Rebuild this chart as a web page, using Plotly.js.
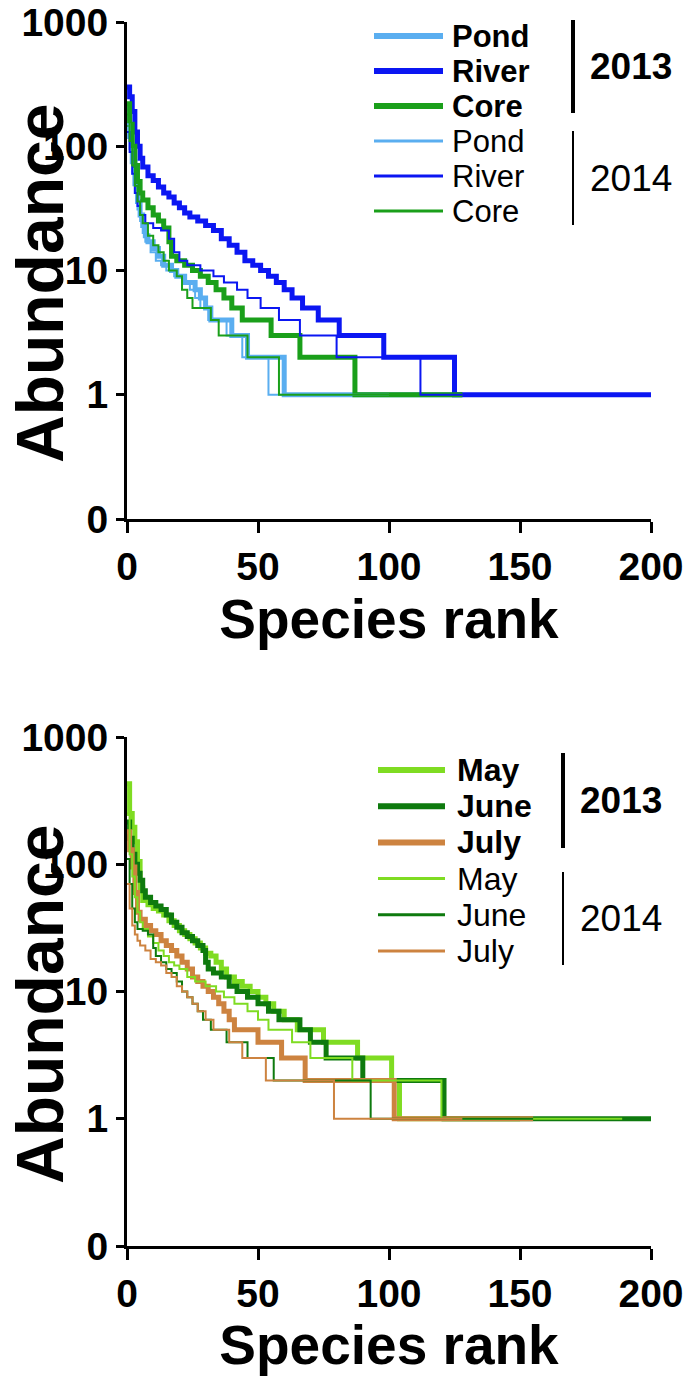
<!DOCTYPE html>
<html><head><meta charset="utf-8">
<script src="https://cdn.plot.ly/plotly-3.0.1.min.js"></script>
<style>html,body{margin:0;padding:0;background:#fff}#chart{width:685px;height:1376px}</style>
</head><body><div id="chart"></div>
<script>
// ---------- Panel A: habitats ----------
const habitatNames = ['Pond', 'River', 'Core'];
const yearLabels = ['2013', '2014'];

const rankPond13  = [0,1,2,3,4,5,6,7,8,10,12,14,17,19,22,26,28,30,32,40,46,60,128];
const abundPond13 = [200,120,75,50,36,28,23,19,17,15,13,11,10,9,8,7,6,5,4,3,2,1,1];
const rankRiver13  = [0,1,2,3,4,5,6,8,10,12,14,16,18,20,22,24,27,30,33,36,39,42,45,48,51,54,57,60,63,67,73,81,98,125,200];
const abundRiver13 = [300,250,190,130,100,80,68,58,53,47,42,39,35,32,29,27,25,23,21,18,16,14,12,11,10,9,8,7,6,5,4,3,2,1,1];
const rankCore13  = [0,1,2,3,4,5,6,8,10,12,14,16,17,19,22,25,28,31,34,37,40,44,55,66,87,128];
const abundCore13 = [220,150,100,70,52,42,37,32,28,25,22,17,13,12,11,10,9,8,7,6,5,4,3,2,1,1];

const rankPond14  = [0,1,2,3,4,5,6,7,9,11,13,15,18,21,24,26,28,31,38,44,54,100];
const abundPond14 = [150,95,60,42,31,25,20,17,14,12,11,10,9,8,7,6,5,4,3,2,1,1];
const rankRiver14  = [0,1,2,3,4,5,7,10,13,16,18,20,23,28,33,37,42,46,51,58,66,80,112,128];
const abundRiver14 = [130,90,60,42,33,28,24,22,21,18,14,12,11,10,9,8,7,6,5,4,3,2,1,1];
const rankCore14  = [0,1,2,3,4,5,6,8,10,12,14,16,19,21,23,25,32,35,46,58,110];
const abundCore14 = [180,110,70,48,36,28,24,19,16,14,12,10,9,7,6,5,4,3,2,1,1];

// ---------- Panel B: months ----------
const monthNames = ['May', 'June', 'July'];

const rankMay13  = [0,1,2,3,4,5,6,8,10,12,14,16,18,20,22,24,26,28,30,32,34,36,38,41,44,47,50,53,56,60,65,75,88,101,104,150];
const abundMay13 = [430,250,195,150,105,65,52,48,45,43,40,36,33,30,28,26,24,22,20,19,17,15,13,12,11,10,9,8,7,6,5,4,3,2,1,1];
const rankJune13  = [0,1,2,3,4,5,6,7,9,11,13,15,17,19,21,23,25,27,29,30,31,33,36,39,42,46,50,54,58,66,70,76,90,121,200];
const abundJune13 = [215,160,120,100,85,75,62,55,50,47,44,40,35,32,29,27,25,23,21,17,15,14,13,11,10,9,8,7,6,5,4,3,2,1,1];
const rankJuly13  = [0,1,2,3,4,5,7,9,11,13,15,17,19,21,23,25,27,29,31,33,35,37,39,41,50,59,68,102,155];
const abundJuly13 = [180,130,95,60,42,37,33,30,28,25,23,21,19,17,15,13,12,11,10,9,8,7,6,5,4,3,2,1,1];

const rankMay14  = [0,1,2,3,4,5,6,8,10,12,14,16,18,20,23,26,30,34,37,41,46,50,54,63,70,86,120,189];
const abundMay14 = [250,120,80,55,42,35,31,27,24,21,19,17,16,15,13,12,11,10,9,8,7,6,5,4,3,2,1,1];
const rankJune14  = [0,1,2,3,4,6,8,10,11,13,15,17,19,21,23,25,27,29,32,38,46,56,93,155];
const abundJune14 = [110,70,45,35,31,30,28,22,19,17,15,14,12,10,9,8,7,6,5,4,3,2,1,1];
const rankJuly14  = [0,1,2,3,4,5,7,9,11,13,15,17,19,21,23,25,27,30,33,39,44,53,79,128];
const abundJuly14 = [70,45,33,28,25,23,21,18,17,16,14,13,11,10,9,8,7,6,5,4,3,2,1,1];

// y tick labels (axis value 0.1 is labelled "0")
const yTickVals = [0.1, 1, 10, 100, 1000];
const yTickText = ['0', '1', '10', '100', '1000'];
const xTickVals = [0, 50, 100, 150, 200];

// ---------- styling ----------
const W = 685, H = 1376;
const PX = v => v / W, PY = v => 1 - v / H;
const FONT = 'Liberation Sans, Arial, Helvetica, sans-serif';
const THICK = 5, THIN = 2;
const habitatColors = ['#5aaef0', '#0b16f2', '#1a9f1a'];
const monthColors = ['#7fdc22', '#0e7a0e', '#cd8340'];

const panelA = [
  {x: rankPond13, y: abundPond13, name: habitatNames[0], year: 0, c: habitatColors[0]},
  {x: rankRiver13, y: abundRiver13, name: habitatNames[1], year: 0, c: habitatColors[1]},
  {x: rankCore13, y: abundCore13, name: habitatNames[2], year: 0, c: habitatColors[2]},
  {x: rankPond14, y: abundPond14, name: habitatNames[0], year: 1, c: habitatColors[0]},
  {x: rankRiver14, y: abundRiver14, name: habitatNames[1], year: 1, c: habitatColors[1]},
  {x: rankCore14, y: abundCore14, name: habitatNames[2], year: 1, c: habitatColors[2]}
];
const panelB = [
  {x: rankMay13, y: abundMay13, name: monthNames[0], year: 0, c: monthColors[0]},
  {x: rankJune13, y: abundJune13, name: monthNames[1], year: 0, c: monthColors[1]},
  {x: rankJuly13, y: abundJuly13, name: monthNames[2], year: 0, c: monthColors[2]},
  {x: rankMay14, y: abundMay14, name: monthNames[0], year: 1, c: monthColors[0]},
  {x: rankJune14, y: abundJune14, name: monthNames[1], year: 1, c: monthColors[1]},
  {x: rankJuly14, y: abundJuly14, name: monthNames[2], year: 1, c: monthColors[2]}
];

const traces = [];
function addTraces(list, xa, ya) {
  list.forEach(s => traces.push({
    x: s.x, y: s.y, type: 'scatter', mode: 'lines',
    name: s.name + ' ' + yearLabels[s.year],
    xaxis: xa, yaxis: ya, showlegend: false,
    line: {shape: 'hv', color: s.c, width: s.year === 0 ? THICK : THIN},
    hoverinfo: 'x+y+name'
  }));
}
addTraces(panelA, 'x', 'y');
addTraces(panelB, 'x2', 'y2');

const tickFont = {family: FONT, size: 39, color: '#000', weight: 700};
const titleFont = {family: FONT, size: 55, color: '#000', weight: 700};
function xAxis(anchor) {
  return {
    domain: [127 / W, 651 / W], anchor: anchor, range: [0, 200],
    tickmode: 'array', tickvals: xTickVals, ticks: 'outside', ticklen: 11, tickwidth: 3, tickcolor: '#000',
    showline: true, linewidth: 3, linecolor: '#000', showgrid: false, zeroline: false,
    ticklabeloverflow: 'allow',
    tickfont: tickFont, title: {text: 'Species rank', font: titleFont, standoff: 6}
  };
}
function yAxis(anchor, top, bottom) {
  return {
    domain: [PY(bottom), PY(top)], anchor: anchor, type: 'log', range: [-1, 3],
    tickmode: 'array', tickvals: yTickVals, ticktext: yTickText,
    ticks: 'outside', ticklen: 8, tickwidth: 3, tickcolor: '#000',
    showline: true, linewidth: 3, linecolor: '#000', showgrid: false, zeroline: false,
    ticklabeloverflow: 'allow',
    tickfont: tickFont
  };
}

const shapes = [], annotations = [];
function legendBlock(list, cfg) {
  list.forEach((s, i) => {
    const yc = cfg.rowY0 + i * cfg.rowStep;
    shapes.push({type: 'line', xref: 'paper', yref: 'paper',
      x0: PX(cfg.swX0), x1: PX(cfg.swX1), y0: PY(yc), y1: PY(yc),
      line: {color: s.c, width: s.year === 0 ? THICK + 1 : THIN + 1}});
    annotations.push({xref: 'paper', yref: 'paper', x: PX(cfg.textX), y: PY(yc),
      xanchor: 'left', yanchor: 'middle', showarrow: false, text: s.name, borderpad: 0,
      font: {family: FONT, size: cfg.fs, color: '#000', weight: s.year === 0 ? 700 : 400}});
  });
  cfg.bars.forEach((b, j) => {
    shapes.push({type: 'line', xref: 'paper', yref: 'paper',
      x0: PX(cfg.barX), x1: PX(cfg.barX), y0: PY(b[0]), y1: PY(b[1]),
      line: {color: '#000', width: j === 0 ? 4 : 2}});
    annotations.push({xref: 'paper', yref: 'paper', x: PX(cfg.yearX), y: PY((b[0] + b[1]) / 2),
      xanchor: 'left', yanchor: 'middle', showarrow: false, text: yearLabels[j],
      font: {family: FONT, size: 37, color: '#000', weight: j === 0 ? 700 : 400}});
  });
}
legendBlock(panelA, {rowY0: 36, rowStep: 35, swX0: 374, swX1: 443, textX: 451, fs: 31,
  barX: 573, bars: [[20, 113], [131, 225]], yearX: 588});
legendBlock(panelB, {rowY0: 770, rowStep: 36.2, swX0: 378, swX1: 445, textX: 456, fs: 32,
  barX: 563, bars: [[753, 848], [872, 965]], yearX: 578});

// y-axis titles
[[40, 284], [40, 1005]].forEach(p => annotations.push({
  xref: 'paper', yref: 'paper', x: PX(p[0]), y: PY(p[1]), xanchor: 'center', yanchor: 'middle',
  showarrow: false, textangle: -90, text: 'Abundance',
  font: {family: FONT, size: 66, color: '#000', weight: 700}}));

const layout = {
  width: W, height: H, margin: {l: 0, r: 0, t: 0, b: 0},
  paper_bgcolor: '#fff', plot_bgcolor: '#fff', showlegend: false,
  xaxis: xAxis('y'), yaxis: yAxis('x', 22, 519),
  xaxis2: xAxis('y2'), yaxis2: yAxis('x2', 737, 1246),
  shapes: shapes, annotations: annotations
};
Plotly.newPlot('chart', traces, layout, {staticPlot: true, displayModeBar: false});
</script></body></html>
